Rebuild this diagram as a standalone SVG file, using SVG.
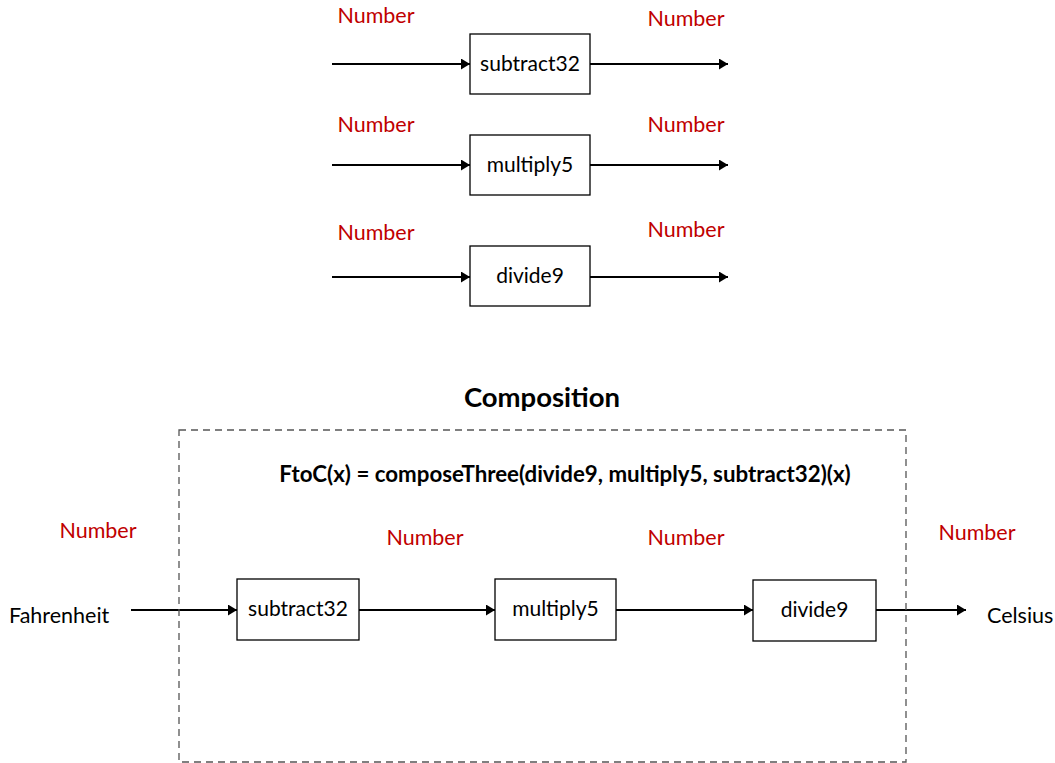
<svg xmlns="http://www.w3.org/2000/svg" width="1055" height="763" viewBox="0 0 1055 763">
  <defs>
    <marker id="arrow" viewBox="0 0 10 10" refX="10" refY="5" markerWidth="9" markerHeight="11" markerUnits="userSpaceOnUse" orient="auto" preserveAspectRatio="none">
      <path d="M0,0 L10,5 L0,10 z" fill="#000"/>
    </marker>
    <style>
      .box { fill: #fff; stroke: #000; stroke-width: 1.3; }
      .edge { stroke: #000; stroke-width: 2; fill: none; marker-end: url(#arrow); }
      .lbl { font-family: Lato, "Liberation Sans", sans-serif; font-size: 21px; fill: #000; text-anchor: middle; }
      .type { font-family: Lato, "Liberation Sans", sans-serif; font-size: 21.5px; fill: #C00000; text-anchor: middle; }
      .io { font-family: Lato, "Liberation Sans", sans-serif; font-size: 21.5px; fill: #000; }
      .title { font-family: Lato, "Liberation Sans", sans-serif; font-size: 27.5px; font-weight: bold; fill: #000; text-anchor: middle; }
      .formula { font-family: Lato, "Liberation Sans", sans-serif; font-size: 22.3px; font-weight: bold; fill: #000; text-anchor: middle; }
      .frame { fill: none; stroke: #555; stroke-width: 1.3; stroke-dasharray: 7 5; }
    </style>
  </defs>

  <!-- individual functions -->
  <g id="connectors">
    <line class="edge" x1="332" y1="64" x2="470" y2="64"/>
    <line class="edge" x1="590" y1="64" x2="728" y2="64"/>
    <line class="edge" x1="332" y1="165" x2="470" y2="165"/>
    <line class="edge" x1="590" y1="165" x2="728" y2="165"/>
    <line class="edge" x1="332" y1="277" x2="470" y2="277"/>
    <line class="edge" x1="590" y1="277" x2="728" y2="277"/>
    <line class="edge" x1="131" y1="610" x2="237" y2="610"/>
    <line class="edge" x1="359" y1="610" x2="495" y2="610"/>
    <line class="edge" x1="616" y1="610" x2="753" y2="610"/>
    <line class="edge" x1="876" y1="610" x2="966" y2="610"/>
  </g>

  <g id="subtract32-single">
    <rect class="box" x="470" y="34" width="120" height="60"/>
    <text class="lbl" x="530" y="71">subtract32</text>
  </g>
  <g id="multiply5-single">
    <rect class="box" x="470" y="135" width="120" height="60"/>
    <text class="lbl" x="530" y="172">multiply5</text>
  </g>
  <g id="divide9-single">
    <rect class="box" x="470" y="246" width="120" height="60"/>
    <text class="lbl" x="530" y="283">divide9</text>
  </g>

  <g id="types-single">
    <text class="type" x="376" y="23">Number</text>
    <text class="type" x="686" y="26">Number</text>
    <text class="type" x="376" y="132">Number</text>
    <text class="type" x="686" y="132">Number</text>
    <text class="type" x="376" y="240">Number</text>
    <text class="type" x="686" y="237">Number</text>
  </g>

  <!-- composed pipeline -->
  <g id="composition">
    <text class="title" x="542" y="407">Composition</text>
    <rect class="frame" x="179" y="430" width="727" height="332"/>
    <text class="formula" x="565" y="482">FtoC(x) = composeThree(divide9, multiply5, subtract32)(x)</text>
  </g>

  <g id="fahrenheit">
    <text class="io" x="9" y="623">Fahrenheit</text>
  </g>
  <g id="subtract32">
    <rect class="box" x="237" y="579" width="122" height="61"/>
    <text class="lbl" x="298" y="616">subtract32</text>
  </g>
  <g id="multiply5">
    <rect class="box" x="495" y="579" width="121" height="61"/>
    <text class="lbl" x="555.5" y="616">multiply5</text>
  </g>
  <g id="divide9">
    <rect class="box" x="753" y="580" width="123" height="61"/>
    <text class="lbl" x="814.5" y="617">divide9</text>
  </g>
  <g id="celsius">
    <text class="io" x="987" y="623">Celsius</text>
  </g>

  <g id="types-composed">
    <text class="type" x="98" y="538">Number</text>
    <text class="type" x="425" y="545">Number</text>
    <text class="type" x="686" y="545">Number</text>
    <text class="type" x="977" y="540">Number</text>
  </g>
</svg>
